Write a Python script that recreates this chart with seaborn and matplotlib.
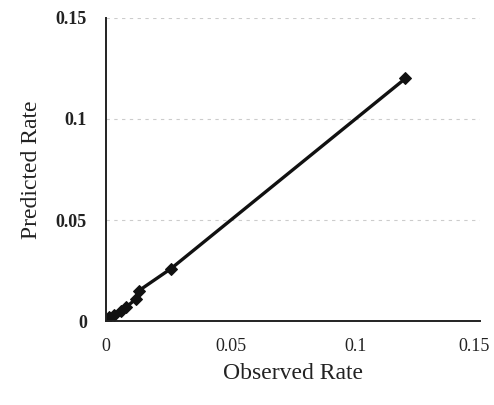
import pandas as pd
import matplotlib.pyplot as plt
import matplotlib.transforms as mtrans
import seaborn as sns

# --- data ---
observed = [0.001, 0.003, 0.006, 0.008, 0.012, 0.013, 0.026, 0.12]
predicted = [0.002, 0.003, 0.005, 0.007, 0.011, 0.015, 0.026, 0.12]
ticks = [0, 0.05, 0.1, 0.15]
tick_labels = ["0", "0.05", "0.1", "0.15"]

df = pd.DataFrame({"observed": observed, "predicted": predicted})

sns.set_style("white")
plt.rcParams['font.family'] = ['Liberation Serif', 'DejaVu Serif']

fig = plt.figure(figsize=(4.94, 4.05), dpi=100)
ax = fig.add_axes([0.215, 0.207, 0.757, 0.749])

sns.lineplot(data=df, x="observed", y="predicted", ax=ax, color="#111111",
             linewidth=2.4, marker="D", markersize=6, markeredgecolor="#111111")

ax.set_xlim(0, 0.15)
ax.set_ylim(0, 0.15)
ax.set_xticks(ticks)
ax.set_xticklabels(tick_labels, fontsize=13, color="#222222")
ax.set_yticks(ticks)
ax.set_yticklabels(tick_labels, fontsize=13, color="#222222", fontweight="bold")
ax.tick_params(axis='x', direction='in', length=5, width=1.2, pad=12)
ax.tick_params(axis='y', length=0, pad=14)

# keep the last x label inside the figure
last = ax.get_xticklabels()[-1]
last.set_transform(last.get_transform() + mtrans.ScaledTranslation(-0.06, 0, fig.dpi_scale_trans))

# faint dashed grid at 0.05 / 0.1 / 0.15
for v in ticks[1:]:
    ax.axhline(v, color="#aaaaaa", linestyle=(0, (3, 4)), linewidth=0.8, alpha=0.6, zorder=0)

for side in ["top", "right"]:
    ax.spines[side].set_visible(False)
for side in ["left", "bottom"]:
    ax.spines[side].set_color("#222222")
    ax.spines[side].set_linewidth(1.4)

ax.set_xlabel("Observed Rate", fontsize=17, color="#222222", labelpad=6)
ax.set_ylabel("Predicted Rate", fontsize=17, color="#222222", labelpad=10)

fig.savefig("out.png", dpi=100, facecolor="white")
